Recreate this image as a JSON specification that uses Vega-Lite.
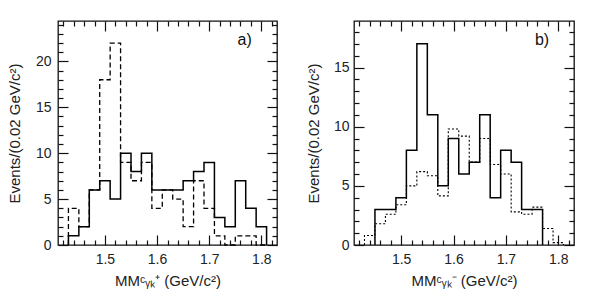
{
  "$schema": "https://vega.github.io/schema/vega-lite/v6.json",
  "padding": {"left": 6, "top": 17, "right": 0, "bottom": 0},
  "spacing": 77,
  "bounds": "flush",
  "config": {
    "font": "Liberation Sans",
    "view": {"stroke": "#111", "strokeWidth": 1.3},
    "axis": {"labelFont": "Liberation Sans", "titleFont": "Liberation Sans", "labelFontSize": 14, "titleFontSize": 15, "titleFontWeight": "normal", "labelColor": "#222", "titleColor": "#222", "grid": false, "domain": false, "labelOverlap": false, "tickColor": "#111", "tickWidth": 1.2}
  },
  "datasets": {
    "a": [
      {"x": 1.43, "n": 0, "s": "solid"}, {"x": 1.43, "n": 1, "s": "solid"}, {"x": 1.45, "n": 2, "s": "solid"}, {"x": 1.47, "n": 6, "s": "solid"}, {"x": 1.49, "n": 7, "s": "solid"}, {"x": 1.51, "n": 5, "s": "solid"}, {"x": 1.53, "n": 10, "s": "solid"}, {"x": 1.55, "n": 8, "s": "solid"}, {"x": 1.57, "n": 10, "s": "solid"}, {"x": 1.59, "n": 6, "s": "solid"}, {"x": 1.61, "n": 6, "s": "solid"}, {"x": 1.63, "n": 6, "s": "solid"}, {"x": 1.65, "n": 7, "s": "solid"}, {"x": 1.67, "n": 8, "s": "solid"}, {"x": 1.69, "n": 9, "s": "solid"}, {"x": 1.71, "n": 3, "s": "solid"}, {"x": 1.73, "n": 2, "s": "solid"}, {"x": 1.75, "n": 7, "s": "solid"}, {"x": 1.77, "n": 4, "s": "solid"}, {"x": 1.79, "n": 2, "s": "solid"}, {"x": 1.81, "n": 0, "s": "solid"},
      {"x": 1.43, "n": 0, "s": "dash"}, {"x": 1.43, "n": 4, "s": "dash"}, {"x": 1.45, "n": 2, "s": "dash"}, {"x": 1.47, "n": 6, "s": "dash"}, {"x": 1.49, "n": 18, "s": "dash"}, {"x": 1.51, "n": 22, "s": "dash"}, {"x": 1.53, "n": 9, "s": "dash"}, {"x": 1.55, "n": 7, "s": "dash"}, {"x": 1.57, "n": 9, "s": "dash"}, {"x": 1.59, "n": 4, "s": "dash"}, {"x": 1.61, "n": 6, "s": "dash"}, {"x": 1.63, "n": 5, "s": "dash"}, {"x": 1.65, "n": 2, "s": "dash"}, {"x": 1.67, "n": 7, "s": "dash"}, {"x": 1.69, "n": 4, "s": "dash"}, {"x": 1.71, "n": 1, "s": "dash"}, {"x": 1.73, "n": 0, "s": "dash"}, {"x": 1.75, "n": 1, "s": "dash"}, {"x": 1.77, "n": 1, "s": "dash"}, {"x": 1.79, "n": 0, "s": "dash"}, {"x": 1.81, "n": 0, "s": "dash"}
    ],
    "b": [
      {"x": 1.45, "n": 0, "s": "solid"}, {"x": 1.45, "n": 3, "s": "solid"}, {"x": 1.47, "n": 3, "s": "solid"}, {"x": 1.49, "n": 4, "s": "solid"}, {"x": 1.51, "n": 8, "s": "solid"}, {"x": 1.53, "n": 17, "s": "solid"}, {"x": 1.55, "n": 11, "s": "solid"}, {"x": 1.57, "n": 5, "s": "solid"}, {"x": 1.59, "n": 9, "s": "solid"}, {"x": 1.61, "n": 6, "s": "solid"}, {"x": 1.63, "n": 7, "s": "solid"}, {"x": 1.65, "n": 11, "s": "solid"}, {"x": 1.67, "n": 4, "s": "solid"}, {"x": 1.69, "n": 8, "s": "solid"}, {"x": 1.71, "n": 7, "s": "solid"}, {"x": 1.73, "n": 3, "s": "solid"}, {"x": 1.75, "n": 3, "s": "solid"}, {"x": 1.77, "n": 0, "s": "solid"},
      {"x": 1.43, "n": 0, "s": "dot"}, {"x": 1.43, "n": 0.8, "s": "dot"}, {"x": 1.45, "n": 1.8, "s": "dot"}, {"x": 1.47, "n": 2.6, "s": "dot"}, {"x": 1.49, "n": 3.4, "s": "dot"}, {"x": 1.51, "n": 5.0, "s": "dot"}, {"x": 1.53, "n": 6.2, "s": "dot"}, {"x": 1.55, "n": 5.85, "s": "dot"}, {"x": 1.57, "n": 4.15, "s": "dot"}, {"x": 1.59, "n": 9.8, "s": "dot"}, {"x": 1.61, "n": 9.2, "s": "dot"}, {"x": 1.63, "n": 7.0, "s": "dot"}, {"x": 1.65, "n": 9.0, "s": "dot"}, {"x": 1.67, "n": 6.8, "s": "dot"}, {"x": 1.69, "n": 6.0, "s": "dot"}, {"x": 1.71, "n": 2.8, "s": "dot"}, {"x": 1.73, "n": 2.6, "s": "dot"}, {"x": 1.75, "n": 3.2, "s": "dot"}, {"x": 1.77, "n": 1.4, "s": "dot"}, {"x": 1.79, "n": 0.2, "s": "dot"}, {"x": 1.81, "n": 0, "s": "dot"}
    ]
  },
  "hconcat": [
    {
      "width": 219,
      "height": 224,
      "data": {"name": "a"},
      "resolve": {"scale": {"x": "independent", "y": "independent"}, "axis": {"x": "independent", "y": "independent"}},
      "layer": [
        {
          "transform": [{"filter": "datum.s == 'solid'"}],
          "mark": {"type": "line", "interpolate": "step-after", "color": "#000", "strokeWidth": 1.5},
          "encoding": {
            "x": {"field": "x", "type": "quantitative", "scale": {"domain": [1.41, 1.83], "nice": false, "zero": false}, "axis": {"orient": "bottom", "values": [1.42, 1.44, 1.46, 1.48, 1.5, 1.52, 1.54, 1.56, 1.58, 1.6, 1.62, 1.64, 1.66, 1.68, 1.7, 1.72, 1.74, 1.76, 1.78, 1.8, 1.82], "tickSize": {"condition": {"test": "abs(datum.value*10 - round(datum.value*10)) < 0.001", "value": -10}, "value": -5}, "labelExpr": "abs(datum.value*10 - round(datum.value*10)) < 0.001 ? format(datum.value, '.1f') : ''", "labelPadding": 17, "title": "MMᶜᵧₖ⁺ (GeV/c²)", "titlePadding": 2}},
            "y": {"field": "n", "type": "quantitative", "scale": {"domain": [0, 24.4], "nice": false}, "axis": {"orient": "left", "values": [0, 1, 2, 3, 4, 5, 6, 7, 8, 9, 10, 11, 12, 13, 14, 15, 16, 17, 18, 19, 20, 21, 22, 23, 24], "tickSize": {"condition": {"test": "datum.value % 5 === 0", "value": -10}, "value": -5}, "labelExpr": "datum.value % 5 === 0 ? datum.label : ''", "labelPadding": 17, "title": "Events/(0.02 GeV/c²)", "titlePadding": 13}}
          }
        },
        {
          "transform": [{"filter": "datum.s == 'dash'"}],
          "mark": {"type": "line", "interpolate": "step-after", "color": "#000", "strokeWidth": 1.3, "strokeDash": [5, 3]},
          "encoding": {
            "x": {"field": "x", "type": "quantitative", "scale": {"domain": [1.41, 1.83], "nice": false, "zero": false}, "axis": {"orient": "top", "labelExpr": "''", "labelPadding": -40, "title": null, "minExtent": 0, "maxExtent": 0, "values": [1.42, 1.44, 1.46, 1.48, 1.5, 1.52, 1.54, 1.56, 1.58, 1.6, 1.62, 1.64, 1.66, 1.68, 1.7, 1.72, 1.74, 1.76, 1.78, 1.8, 1.82], "tickSize": {"condition": {"test": "abs(datum.value*10 - round(datum.value*10)) < 0.001", "value": -10}, "value": -5}}},
            "y": {"field": "n", "type": "quantitative", "scale": {"domain": [0, 24.4], "nice": false}, "axis": {"orient": "right", "labelExpr": "''", "labelPadding": -40, "title": null, "minExtent": 0, "maxExtent": 0, "values": [0, 1, 2, 3, 4, 5, 6, 7, 8, 9, 10, 11, 12, 13, 14, 15, 16, 17, 18, 19, 20, 21, 22, 23, 24], "tickSize": {"condition": {"test": "datum.value % 5 === 0", "value": -10}, "value": -5}}}
          }
        },
        {
          "data": {"values": [{"t": "a)"}]},
          "mark": {"type": "text", "fontSize": 16, "color": "#111", "baseline": "middle", "align": "center", "font": "Liberation Sans"},
          "encoding": {
            "text": {"field": "t"},
            "x": {"datum": 1.768, "type": "quantitative", "scale": {"domain": [1.41, 1.83], "nice": false, "zero": false}, "axis": null},
            "y": {"datum": 22.3, "type": "quantitative", "scale": {"domain": [0, 24.4], "nice": false}, "axis": null}
          }
        }
      ]
    },
    {
      "width": 220,
      "height": 224,
      "data": {"name": "b"},
      "resolve": {"scale": {"x": "independent", "y": "independent"}, "axis": {"x": "independent", "y": "independent"}},
      "layer": [
        {
          "transform": [{"filter": "datum.s == 'solid'"}],
          "mark": {"type": "line", "interpolate": "step-after", "color": "#000", "strokeWidth": 1.5},
          "encoding": {
            "x": {"field": "x", "type": "quantitative", "scale": {"domain": [1.41, 1.83], "nice": false, "zero": false}, "axis": {"orient": "bottom", "values": [1.42, 1.44, 1.46, 1.48, 1.5, 1.52, 1.54, 1.56, 1.58, 1.6, 1.62, 1.64, 1.66, 1.68, 1.7, 1.72, 1.74, 1.76, 1.78, 1.8, 1.82], "tickSize": {"condition": {"test": "abs(datum.value*10 - round(datum.value*10)) < 0.001", "value": -10}, "value": -5}, "labelExpr": "abs(datum.value*10 - round(datum.value*10)) < 0.001 ? format(datum.value, '.1f') : ''", "labelPadding": 17, "title": "MMᶜᵧₖ⁻ (GeV/c²)", "titlePadding": 2}},
            "y": {"field": "n", "type": "quantitative", "scale": {"domain": [0, 18.93], "nice": false}, "axis": {"orient": "left", "values": [0, 1, 2, 3, 4, 5, 6, 7, 8, 9, 10, 11, 12, 13, 14, 15, 16, 17, 18], "tickSize": {"condition": {"test": "datum.value % 5 === 0", "value": -10}, "value": -5}, "labelExpr": "datum.value % 5 === 0 ? datum.label : ''", "labelPadding": 15, "title": "Events/(0.02 GeV/c²)", "titlePadding": 12}}
          }
        },
        {
          "transform": [{"filter": "datum.s == 'dot'"}],
          "mark": {"type": "line", "interpolate": "step-after", "color": "#000", "strokeWidth": 1.1, "strokeDash": [2, 2]},
          "encoding": {
            "x": {"field": "x", "type": "quantitative", "scale": {"domain": [1.41, 1.83], "nice": false, "zero": false}, "axis": {"orient": "top", "labelExpr": "''", "labelPadding": -40, "title": null, "minExtent": 0, "maxExtent": 0, "values": [1.42, 1.44, 1.46, 1.48, 1.5, 1.52, 1.54, 1.56, 1.58, 1.6, 1.62, 1.64, 1.66, 1.68, 1.7, 1.72, 1.74, 1.76, 1.78, 1.8, 1.82], "tickSize": {"condition": {"test": "abs(datum.value*10 - round(datum.value*10)) < 0.001", "value": -10}, "value": -5}}},
            "y": {"field": "n", "type": "quantitative", "scale": {"domain": [0, 18.93], "nice": false}, "axis": {"orient": "right", "labelExpr": "''", "labelPadding": -40, "title": null, "minExtent": 0, "maxExtent": 0, "values": [0, 1, 2, 3, 4, 5, 6, 7, 8, 9, 10, 11, 12, 13, 14, 15, 16, 17, 18], "tickSize": {"condition": {"test": "datum.value % 5 === 0", "value": -10}, "value": -5}}}
          }
        },
        {
          "data": {"values": [{"t": "b)"}]},
          "mark": {"type": "text", "fontSize": 16, "color": "#111", "baseline": "middle", "align": "center", "font": "Liberation Sans"},
          "encoding": {
            "text": {"field": "t"},
            "x": {"datum": 1.769, "type": "quantitative", "scale": {"domain": [1.41, 1.83], "nice": false, "zero": false}, "axis": null},
            "y": {"datum": 17.3, "type": "quantitative", "scale": {"domain": [0, 18.93], "nice": false}, "axis": null}
          }
        }
      ]
    }
  ]
}
